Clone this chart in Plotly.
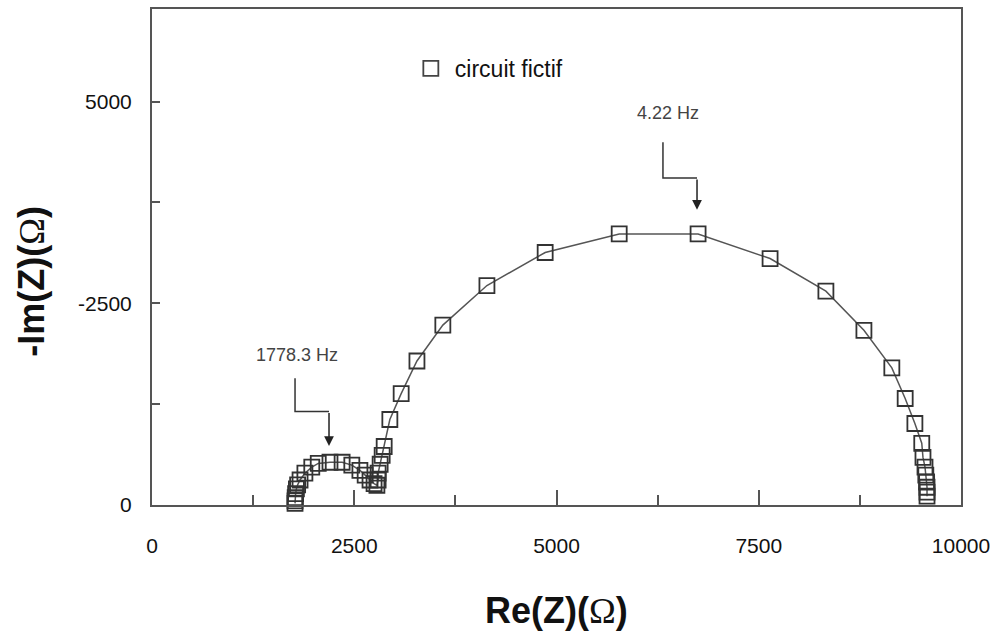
import plotly.graph_objects as go

# Nyquist data (Re(Z), -Im(Z)) in ohm
re_z = [1768, 1768, 1770, 1775, 1785, 1800, 1830, 1890, 1975, 2055, 2200, 2350, 2470,
        2570, 2635, 2695, 2745, 2780,
        2795, 2795, 2820, 2845, 2870, 2940, 3080, 3275, 3595, 4140, 4860, 5775, 6750,
        7640, 8330, 8800, 9145, 9310, 9430, 9515, 9530, 9555, 9565, 9575, 9580, 9580, 9580]
im_z = [20, 50, 90, 140, 200, 250, 310, 395, 470, 515, 530, 530, 495,
        430, 370, 310, 265, 245,
        310, 395, 505, 615, 725, 1060, 1380, 1785, 2230, 2720, 3130, 3360, 3360,
        3055, 2650, 2165, 1700, 1320, 1010, 765, 590, 470, 370, 285, 220, 160, 110]

series_name = "circuit fictif"

x_tickvals = [0, 2500, 5000, 7500, 10000]
x_ticktext = ["0", "2500", "5000", "7500", "10000"]
y_tickvals = [0, 2500, 5000]
y_ticktext = ["0", "-2500", "5000"]

x_title = "<b>Re(Z)(</b><span style='font-family:Liberation Serif'>Ω</span><b>)</b>"
y_title = "<b>-Im(Z)(</b><span style='font-family:Liberation Serif'>Ω</span><b>)</b>"

# frequency labels: text, label position, elbow arrow path (data units)
freq_labels = ["1778.3 Hz", "4.22 Hz"]
label_x = [1792, 6378]
label_y = [1860, 4860]
arrow_x0 = [1768, 6316]
arrow_y0 = [1570, 4495]
arrow_ymid = [1160, 4052]
arrow_x1 = [2188, 6737]
arrow_tip = [730, 3660]

AX = "#555555"
fig = go.Figure()

fig.add_trace(go.Scatter(
    x=re_z, y=im_z, mode="lines+markers",
    line=dict(color="#555555", width=1.5),
    marker=dict(symbol="square-open", size=15, color="#333333", line=dict(width=1.8)),
    cliponaxis=False, showlegend=False,
))
fig.add_trace(go.Scatter(
    x=[None], y=[None], mode="markers", name=series_name,
    marker=dict(symbol="square-open", size=15, color="#444444", line=dict(width=1.8)),
))

for i, t in enumerate(freq_labels):
    fig.add_annotation(x=label_x[i], y=label_y[i], text=t, showarrow=False,
                       font=dict(family="Liberation Sans, Arial", size=18, color="#444444"))
    fig.add_shape(type="path",
                  path=f"M {arrow_x0[i]},{arrow_y0[i]} L {arrow_x0[i]},{arrow_ymid[i]} L {arrow_x1[i]},{arrow_ymid[i]}",
                  line=dict(color="#333333", width=1.5), xref="x", yref="y")
    fig.add_annotation(x=arrow_x1[i], y=arrow_tip[i], ax=arrow_x1[i], ay=arrow_ymid[i],
                       axref="x", ayref="y", xref="x", yref="y", text="", showarrow=True,
                       arrowhead=2, arrowsize=1.3, arrowwidth=1.5, arrowcolor="#222222")

# axis titles as annotations for exact placement
fig.add_annotation(x=0.5, y=0, xref="paper", yref="paper", xanchor="center", yanchor="middle",
                   yshift=-105, text=x_title, showarrow=False, font=dict(size=36, color="#111111"))
fig.add_annotation(x=0, y=0.45, xref="paper", yref="paper", xanchor="center", yanchor="middle",
                   xshift=-120, text=y_title, textangle=-90, showarrow=False,
                   font=dict(size=36, color="#111111"))

fig.update_layout(
    width=1006, height=642,
    margin=dict(l=152, r=45, t=7, b=137),
    paper_bgcolor="white", plot_bgcolor="white",
    font=dict(family="Liberation Sans, Arial", color="#111111"),
    legend=dict(x=0.315, y=0.88, xanchor="left", yanchor="middle", itemwidth=38,
                bgcolor="rgba(0,0,0,0)", font=dict(size=23, color="#111111")),
    xaxis=dict(range=[0, 10000], tickvals=x_tickvals, ticktext=x_ticktext,
               showgrid=False, zeroline=False, showline=True, linecolor=AX, linewidth=2,
               mirror=True, ticks="inside", ticklen=15, tickwidth=1.5, tickcolor=AX,
               tickfont=dict(size=21, color="#111111"), ticklabelstandoff=21,
               minor=dict(tickvals=[1250, 3750, 6250, 8750], ticks="inside", ticklen=10,
                          tickwidth=1.5, tickcolor=AX)),
    yaxis=dict(range=[0, 6148], tickvals=y_tickvals, ticktext=y_ticktext,
               showgrid=False, zeroline=False, showline=True, linecolor=AX, linewidth=2,
               mirror=True, ticks="inside", ticklen=8, tickwidth=1.5, tickcolor=AX,
               tickfont=dict(size=21, color="#111111"), ticklabelstandoff=14,
               minor=dict(tickvals=[1250, 3750], ticks="inside", ticklen=8,
                          tickwidth=1.5, tickcolor=AX)),
)

fig.write_html("out.html")
